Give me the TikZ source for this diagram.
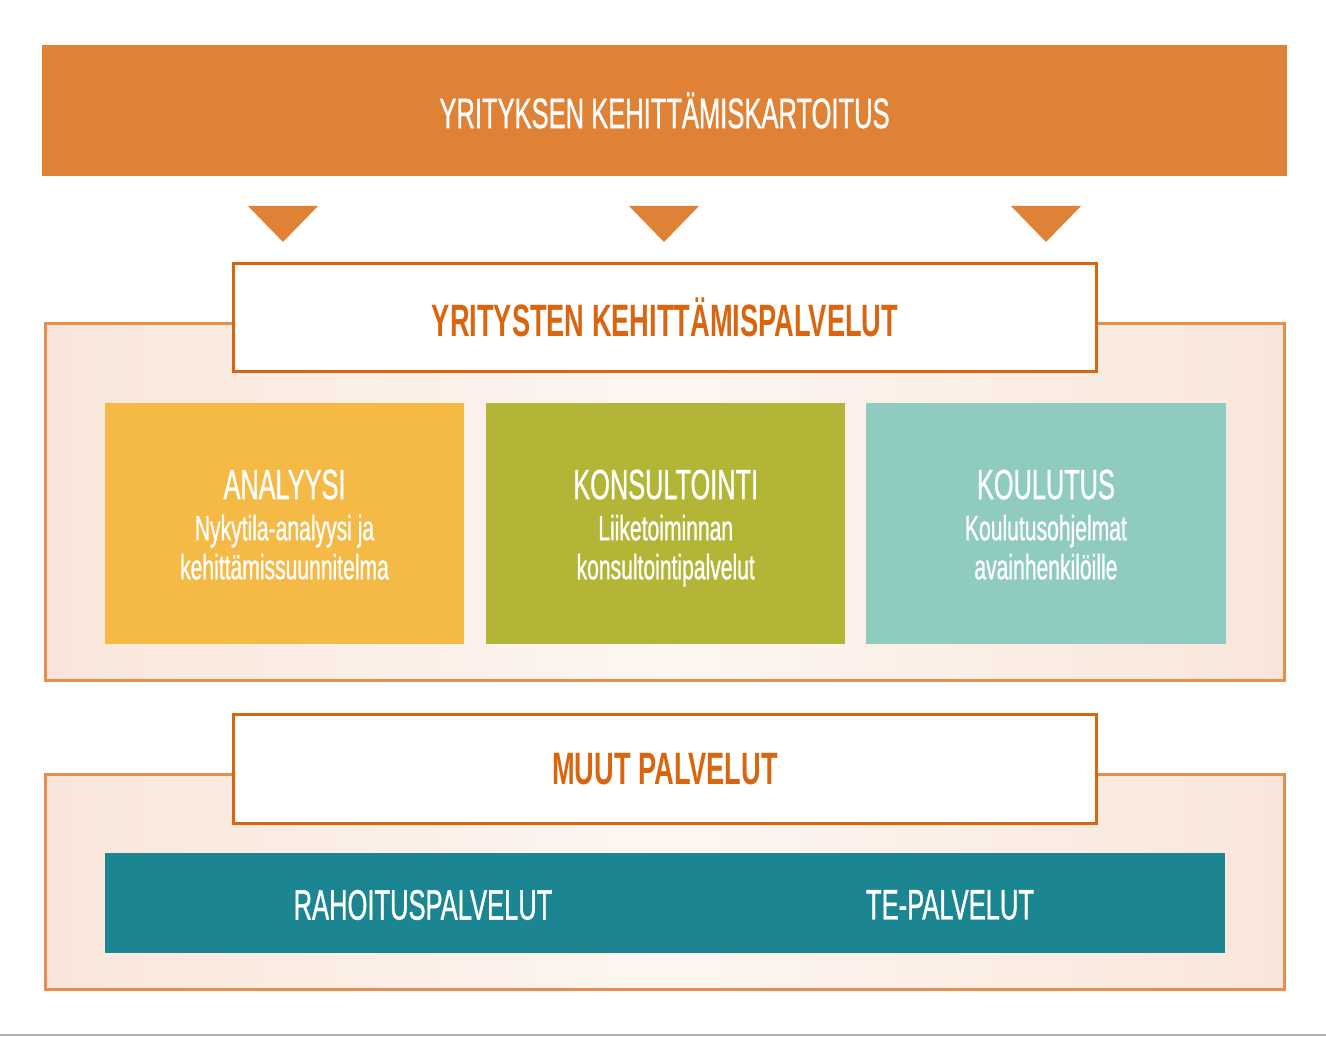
\documentclass[tikz,border=0pt]{standalone}
\usepackage{fontspec}
\setmainfont{Liberation Sans}[FakeStretch=0.6]
\newfontfamily\medfont{Liberation Sans}[FakeStretch=0.6,FakeBold=0.8]
\usetikzlibrary{positioning}
\definecolor{barorange}{HTML}{E08236}
\definecolor{lineorange}{HTML}{E88D4B}
\definecolor{headorange}{HTML}{D9650F}
\definecolor{peachedge}{HTML}{F9E6DA}
\definecolor{peachmid}{HTML}{FDF6F1}
\definecolor{analyysi}{HTML}{F5B946}
\definecolor{konsult}{HTML}{B3B536}
\definecolor{koulutus}{HTML}{90CBBF}
\definecolor{teal}{HTML}{1B8692}
\newcommand{\boxtitle}[1]{{\fontsize{12}{17}\selectfont\rule{0pt}{11pt}#1}\\[0.6pt]}

\begin{document}
\begin{tikzpicture}[x=0.01cm,y=-0.01cm,inner sep=0pt,outer sep=0pt,
    frame/.style={draw=lineorange,line width=0.03cm,left color=peachedge,right color=peachedge,middle color=peachmid},
    head/.style={draw=headorange,fill=white,line width=0.03cm,minimum width=8.63cm,minimum height=1.08cm,
        text=headorange,font=\bfseries\fontsize{12.9}{15}\selectfont},
    service/.style={minimum width=3.59cm,minimum height=2.41cm,text=white,align=center,
        font=\medfont\fontsize{10}{11.1}\selectfont},
    bartext/.style={text=white,font=\medfont\fontsize{12.1}{14}\selectfont}]

    \useasboundingbox (0,0) rectangle (1326,1037);
    \draw[gray!60,line width=0.02cm] (0,1035) -- (1326,1035);

    \node[fill=barorange,minimum width=12.45cm,minimum height=1.31cm,bartext] (kartoitus) at (664.5,110.5)
        {YRITYKSEN KEHITTÄMISKARTOITUS};
    \foreach \x in {283,664,1046}
        \fill[barorange] (\x-35,206) -- (\x+35,206) -- (\x,242) -- cycle;

    \path[frame] (45.5,323.5) rectangle (1284.5,680.5);
    \node[head] (palvelut) at (665,317.5) {YRITYSTEN KEHITTÄMISPALVELUT};

    \node[service,fill=analyysi] (analyysi) at (284.5,523.5)
        {\boxtitle{ANALYYSI}Nykytila-analyysi ja\\kehittämissuunnitelma\vphantom{p}};
    \node[service,fill=konsult] (konsultointi) [right=0.22cm of analyysi]
        {\boxtitle{KONSULTOINTI}Liiketoiminnan\\konsultointipalvelut\vphantom{p}};
    \node[service,fill=koulutus] (koulutus) [right=0.21cm of konsultointi]
        {\boxtitle{KOULUTUS}Koulutusohjelmat\\avainhenkilöille\vphantom{p}};

    \path[frame] (45.5,774.5) rectangle (1284.5,989.5);
    \node[head] (muut) at (665,769) {MUUT PALVELUT};

    \node[fill=teal,minimum width=11.2cm,minimum height=1.0cm] (muutbar) at (665,903) {};
    \node[bartext] (rahoitus) at (423,905) {RAHOITUSPALVELUT};
    \node[bartext] (te) at (950,905) {TE-PALVELUT};
\end{tikzpicture}
\end{document}
